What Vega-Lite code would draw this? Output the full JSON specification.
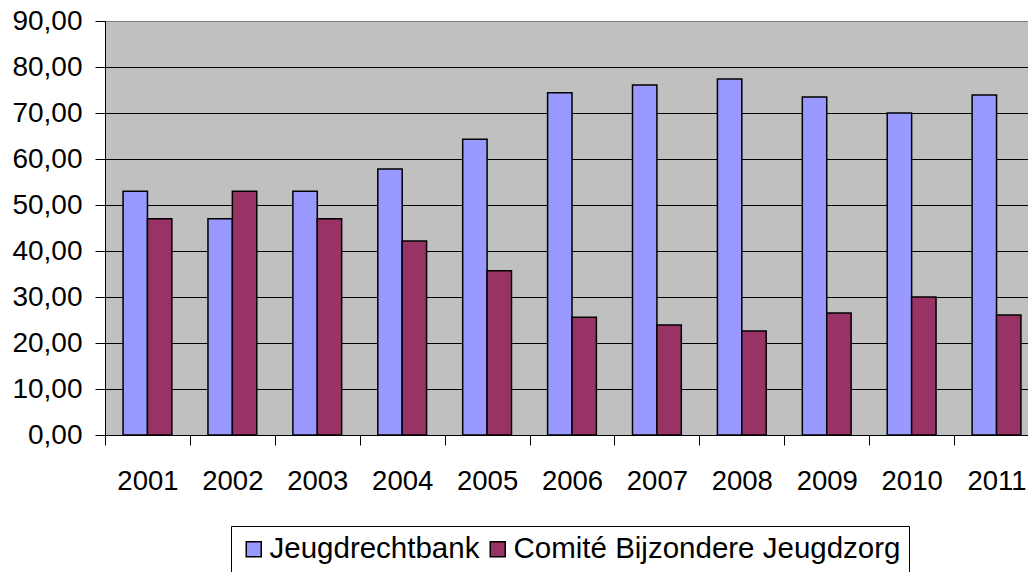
{
  "$schema": "https://vega.github.io/schema/vega-lite/v6.json",
  "width": 923,
  "height": 414,
  "autosize": {"type": "none"},
  "padding": {"left": 105, "top": 21, "right": 0, "bottom": 137},
  "background": "white",
  "config": {
    "font": "Liberation Sans",
    "view": {"fill": "#C0C0C0", "stroke": "#808080", "strokeWidth": 1}
  },
  "data": {
    "values": [
      {"year": "2001", "serie": "Jeugdrechtbank", "value": 53.0},
      {"year": "2001", "serie": "Comité Bijzondere Jeugdzorg", "value": 47.0},
      {"year": "2002", "serie": "Jeugdrechtbank", "value": 47.0},
      {"year": "2002", "serie": "Comité Bijzondere Jeugdzorg", "value": 53.0},
      {"year": "2003", "serie": "Jeugdrechtbank", "value": 53.0},
      {"year": "2003", "serie": "Comité Bijzondere Jeugdzorg", "value": 47.0},
      {"year": "2004", "serie": "Jeugdrechtbank", "value": 57.8},
      {"year": "2004", "serie": "Comité Bijzondere Jeugdzorg", "value": 42.2},
      {"year": "2005", "serie": "Jeugdrechtbank", "value": 64.3},
      {"year": "2005", "serie": "Comité Bijzondere Jeugdzorg", "value": 35.7},
      {"year": "2006", "serie": "Jeugdrechtbank", "value": 74.4},
      {"year": "2006", "serie": "Comité Bijzondere Jeugdzorg", "value": 25.6},
      {"year": "2007", "serie": "Jeugdrechtbank", "value": 76.1},
      {"year": "2007", "serie": "Comité Bijzondere Jeugdzorg", "value": 23.9},
      {"year": "2008", "serie": "Jeugdrechtbank", "value": 77.4},
      {"year": "2008", "serie": "Comité Bijzondere Jeugdzorg", "value": 22.6},
      {"year": "2009", "serie": "Jeugdrechtbank", "value": 73.5},
      {"year": "2009", "serie": "Comité Bijzondere Jeugdzorg", "value": 26.5},
      {"year": "2010", "serie": "Jeugdrechtbank", "value": 70.0},
      {"year": "2010", "serie": "Comité Bijzondere Jeugdzorg", "value": 30.0},
      {"year": "2011", "serie": "Jeugdrechtbank", "value": 73.9},
      {"year": "2011", "serie": "Comité Bijzondere Jeugdzorg", "value": 26.1}
    ]
  },
  "mark": {"type": "bar", "stroke": "black", "strokeWidth": 1.5},
  "encoding": {
    "x": {
      "field": "year",
      "type": "nominal",
      "scale": {"range": [0, 934], "paddingInner": 0, "paddingOuter": 0},
      "axis": {
        "title": null,
        "labelAngle": 0,
        "labelFontSize": 27.5,
        "labelColor": "black",
        "labelPadding": 22,
        "labelBaseline": "top",
        "tickBand": "extent",
        "tickSize": 10,
        "tickColor": "black",
        "domainColor": "black",
        "grid": false
      }
    },
    "xOffset": {
      "field": "serie",
      "type": "nominal",
      "sort": ["Jeugdrechtbank", "Comité Bijzondere Jeugdzorg"],
      "scale": {"paddingInner": 0, "paddingOuter": 0.74}
    },
    "y": {
      "field": "value",
      "type": "quantitative",
      "scale": {"domain": [0, 90], "nice": false},
      "axis": {
        "title": null,
        "values": [0, 10, 20, 30, 40, 50, 60, 70, 80, 90],
        "format": ".2f",
        "labelExpr": "replace(datum.label, '.', ',')",
        "labelFontSize": 28,
        "labelColor": "black",
        "labelPadding": 13,
        "tickSize": 10,
        "tickColor": "black",
        "domainColor": "black",
        "grid": true,
        "gridColor": {"condition": {"test": "datum.value == 90", "value": "#808080"}, "value": "black"},
        "gridOpacity": 1
      }
    },
    "fill": {
      "field": "serie",
      "type": "nominal",
      "sort": ["Jeugdrechtbank", "Comité Bijzondere Jeugdzorg"],
      "scale": {"range": ["#9999FF", "#993366"]},
      "legend": {
        "title": null,
        "orient": "none",
        "direction": "horizontal",
        "legendX": 126,
        "legendY": 505,
        "fillColor": "white",
        "strokeColor": "black",
        "padding": 8,
        "symbolType": "square",
        "symbolSize": 225,
        "symbolStrokeColor": "black",
        "symbolStrokeWidth": 1.5,
        "symbolOpacity": 1,
        "labelFontSize": 29.5,
        "labelColor": "black",
        "labelOffset": 1,
        "columnPadding": 3,
        "labelLimit": 600
      }
    }
  }
}
